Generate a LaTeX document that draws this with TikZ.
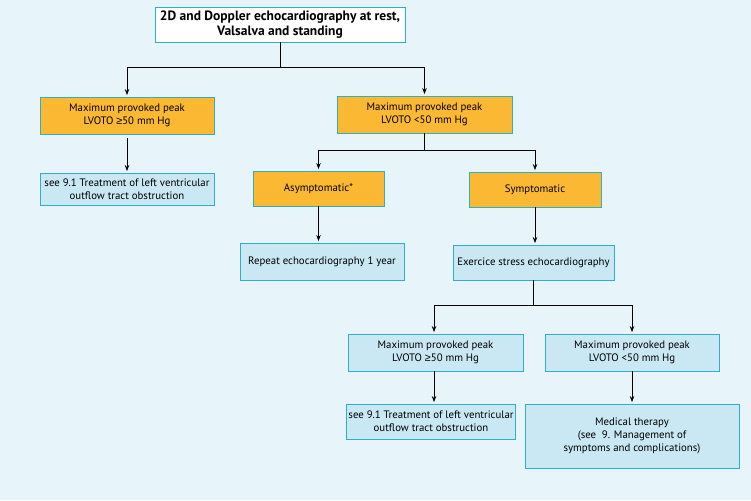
\documentclass[tikz,border=0pt]{standalone}
\usepackage{fontspec}
\setmainfont{PT Sans}
\newfontfamily\symfont{Liberation Sans}
\usetikzlibrary{arrows.meta}

\definecolor{bgblue}{HTML}{E7F4FA}
\definecolor{frame}{HTML}{2FAFC4}
\definecolor{boxorange}{HTML}{FBB833}
\definecolor{boxblue}{HTML}{C9E8F3}

\newcommand{\atleast}{{\symfont ≥}}

\tikzset{
  box/.style={draw=frame, line width=0.9pt, align=center, inner sep=2pt,
    font=\fontsize{10.8}{13}\selectfont},
  question/.style={box, fill=boxorange},
  action/.style={box, fill=boxblue},
  link/.style={-{Stealth[length=6pt,width=4.5pt]}, line width=0.7pt, shorten >=1.5pt},
}

\begin{document}
\begin{tikzpicture}[x=1pt,y=-1pt]
  \fill[bgblue] (0,0) rectangle (751,500);
  \path[use as bounding box] (0,0) rectangle (751,500);

  \node[box, fill=white, font=\fontsize{13.5}{15}\selectfont\bfseries,
    minimum width=250pt, minimum height=35pt, inner sep=1pt] (start) at (280,24.5)
    {2D and Doppler echocardiography at rest,\\Valsalva and standing};

  % first split
  \node[question, minimum width=174pt, minimum height=37pt] (hi) at (127,115.5)
    {Maximum provoked peak\\LVOTO \atleast50 mm Hg};
  \node[question, minimum width=175pt, minimum height=37pt] (lo) at (424.5,114.5)
    {Maximum provoked peak\\LVOTO <50 mm Hg};
  \node[action, minimum width=174pt, minimum height=32pt] (hitreat) at (127,189)
    {see 9.1 Treatment of left ventricular\\outflow tract obstruction};

  % symptoms
  \node[question, minimum width=131pt, minimum height=35pt] (asym) at (318.5,188.5)
    {Asymptomatic*};
  \node[question, minimum width=132pt, minimum height=35pt] (sym) at (535,189.5)
    {Symptomatic};
  \node[action, minimum width=164pt, minimum height=37pt] (repeat) at (322,261.5)
    {Repeat echocardiography 1 year};
  \node[action, minimum width=161pt, minimum height=35pt] (stress) at (533.5,262.5)
    {Exercice stress echocardiography};

  % after stress test
  \node[action, minimum width=175pt, minimum height=37pt] (stresshi) at (435.5,352.5)
    {Maximum provoked peak\\LVOTO \atleast50 mm Hg};
  \node[action, minimum width=174pt, minimum height=37pt] (stresslo) at (632,352.5)
    {Maximum provoked peak\\LVOTO <50 mm Hg};
  \node[action, minimum width=166pt, minimum height=35pt] (stresstreat) at (431,421.5)
    {see 9.1 Treatment of left ventricular\\outflow tract obstruction};
  \node[action, minimum width=214pt, minimum height=64pt] (medical) at (632,436)
    {Medical therapy\\(see\ \ 9. Management of\\symptoms and complications)};

  \draw[link] (start.south) -- ++(0,25) -| (hi.north);
  \draw[link] (start.south) -- ++(0,25) -| (lo.north);
  \draw[link] ([yshift=-4pt]hi.south) -- (hitreat.north);
  \draw[link] (lo.south) -- ++(0,17) -| (asym.north);
  \draw[link] (lo.south) -- ++(0,17) -| (sym.north);
  \draw[link] (asym.south) -- (asym.south |- repeat.north);
  \draw[link] (sym.south) -- (sym.south |- stress.north);
  \draw[link] (stress.south) -- ++(0,25) -| ([xshift=-1.5pt]stresshi.north);
  \draw[link] (stress.south) -- ++(0,25) -| (stresslo.north);
  \draw[link] ([xshift=-1.5pt]stresshi.south) -- ([xshift=-1.5pt]stresshi.south |- stresstreat.north);
  \draw[link] (stresslo.south) -- (medical.north);
\end{tikzpicture}
\end{document}
